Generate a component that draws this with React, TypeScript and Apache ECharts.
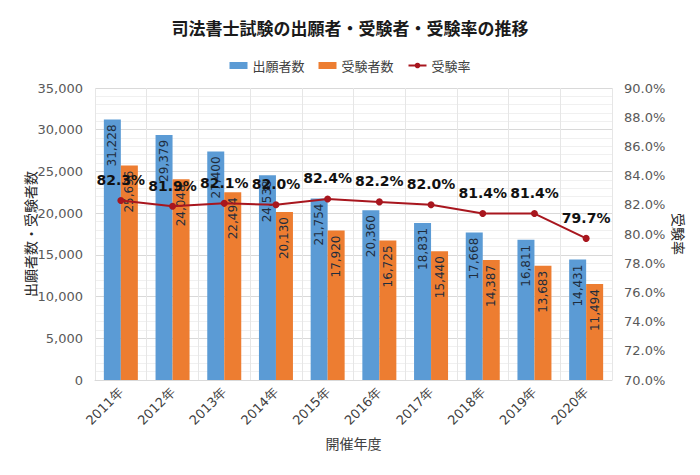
import React, { useEffect, useRef } from "react";
import * as echarts from "echarts";

const categories = ["2011年", "2012年", "2013年", "2014年", "2015年", "2016年", "2017年", "2018年", "2019年", "2020年"];
const applicants = [31228, 29379, 27400, 24538, 21754, 20360, 18831, 17668, 16811, 14431];
const examinees = [25696, 24048, 22494, 20130, 17920, 16725, 15440, 14387, 13683, 11494];
const rates = [82.3, 81.9, 82.1, 82.0, 82.4, 82.2, 82.0, 81.4, 81.4, 79.7];

const FONT = "'Noto Sans CJK JP', 'Noto Sans', sans-serif";

export default function App() {
  const ref = useRef<HTMLDivElement>(null);
  useEffect(() => {
    const chart = echarts.init(ref.current!, null, { renderer: "svg" });
    const barLabel = {
      show: true,
      position: "insideTop",
      rotate: 90,
      align: "right",
      verticalAlign: "middle",
      distance: 5,
      fontSize: 12,
      fontFamily: "Verdana, 'DejaVu Sans', sans-serif",
      color: "#1f2d3d",
      formatter: (p: any) => Number(p.value).toLocaleString("en-US"),
    };
    chart.setOption({
      animation: false,
      backgroundColor: "#ffffff",
      textStyle: { fontFamily: FONT },
      title: {
        text: "司法書士試験の出願者・受験者・受験率の推移",
        left: "center",
        top: 14,
        textStyle: { fontSize: 17, fontWeight: "bold", color: "#1a1a1a", fontFamily: FONT },
      },
      legend: {
        top: 54,
        left: "center",
        itemWidth: 18,
        itemHeight: 7,
        itemGap: 14,
        textStyle: { fontSize: 13, color: "#404040", fontFamily: FONT },
        data: [
          { name: "出願者数", icon: "rect" },
          { name: "受験者数", icon: "rect" },
          { name: "受験率" },
        ],
      },
      grid: { left: 95, right: 88, top: 88, bottom: 95, containLabel: false },
      xAxis: {
        type: "category",
        data: categories,
        name: "開催年度",
        nameLocation: "middle",
        nameGap: 56,
        nameMoveOverlap: false,
        nameTextStyle: { fontSize: 14, color: "#404040", fontFamily: FONT },
        axisLine: { show: true, lineStyle: { color: "#d9d9d9" } },
        axisTick: { show: false },
        axisLabel: {
          rotate: 45,
          fontSize: 13,
          color: "#404040",
          margin: 10,
          fontFamily: "Verdana, 'DejaVu Sans', sans-serif",
        },
        splitLine: { show: true, lineStyle: { color: "#e6e6e6" } },
      },
      yAxis: [
        {
          type: "value",
          min: 0,
          max: 35000,
          interval: 5000,
          name: "出願者数・受験者数",
          nameLocation: "middle",
          nameGap: 58,
          nameMoveOverlap: false,
          nameRotate: 90,
          nameTextStyle: { fontSize: 14, color: "#262626", fontFamily: FONT },
          axisLine: { show: false },
          axisTick: { show: false },
          axisLabel: {
            fontSize: 13,
            color: "#595959",
            margin: 12,
            fontFamily: "Verdana, 'DejaVu Sans', sans-serif",
            formatter: (v: number) => v.toLocaleString("en-US"),
          },
          splitLine: { show: true, lineStyle: { color: "#d9d9d9" } },
          minorTick: { show: false, splitNumber: 5 },
          minorSplitLine: { show: true, lineStyle: { color: "#f0f0f0" } },
        },
        {
          type: "value",
          min: 70,
          max: 90,
          interval: 2,
          name: "受験率",
          nameLocation: "middle",
          nameGap: 60,
          nameMoveOverlap: false,
          nameRotate: -90,
          nameTextStyle: { fontSize: 14, color: "#262626", fontFamily: FONT },
          axisLine: { show: false },
          axisTick: { show: false },
          axisLabel: {
            fontSize: 13,
            color: "#595959",
            margin: 12,
            fontFamily: "Verdana, 'DejaVu Sans', sans-serif",
            formatter: (v: number) => v.toFixed(1) + "%",
          },
          splitLine: { show: false },
        },
      ],
      series: [
        {
          name: "出願者数",
          type: "bar",
          data: applicants,
          barWidth: 17,
          barGap: "0%",
          itemStyle: { color: "#5B9BD5" },
          label: barLabel,
        },
        {
          name: "受験者数",
          type: "bar",
          data: examinees,
          barWidth: 17,
          barGap: "0%",
          itemStyle: { color: "#ED7D31" },
          label: barLabel,
        },
        {
          name: "受験率",
          type: "line",
          yAxisIndex: 1,
          data: rates,
          symbol: "circle",
          symbolSize: 7,
          lineStyle: { color: "#A8161E", width: 2 },
          itemStyle: { color: "#A8161E" },
          z: 5,
          label: {
            show: true,
            position: "top",
            distance: 10,
            fontSize: 14,
            fontWeight: "bold",
            color: "#111111",
            fontFamily: "Verdana, 'DejaVu Sans', sans-serif",
            formatter: (p: any) => Number(p.value).toFixed(1) + "%",
          },
        },
      ],
    });
    return () => chart.dispose();
  }, []);
  return <div ref={ref} style={{ width: 700, height: 475, position: "absolute", left: 0, top: 0 }} />;
}
